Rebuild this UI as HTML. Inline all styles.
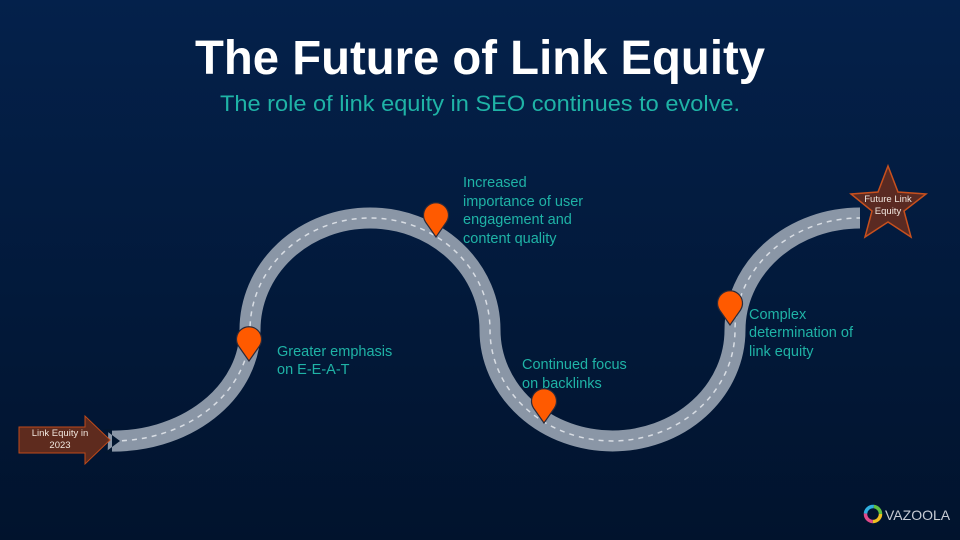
<!DOCTYPE html>
<html><head><meta charset="utf-8"><style>
html,body{margin:0;padding:0;width:960px;height:540px;overflow:hidden}
svg{display:block}
text{font-family:"Liberation Sans",sans-serif}
</style></head><body>
<svg width="960" height="540" viewBox="0 0 960 540" xmlns="http://www.w3.org/2000/svg">
<defs>
<linearGradient id="bg" x1="0" y1="0" x2="0" y2="1">
<stop offset="0" stop-color="#04214b"/><stop offset="1" stop-color="#01132d"/>
</linearGradient>
<g id="pin"><path d="M0,0 L-10.5,-15 A12.5,12.5 0 1 1 10.5,-15 Z" fill="#ff5a00" stroke="#2a2a3a" stroke-width="1.2"/></g>
</defs>
<rect width="960" height="540" fill="url(#bg)"/>
<text x="480" y="74" text-anchor="middle" font-size="48" font-weight="bold" fill="#fff" textLength="570" lengthAdjust="spacingAndGlyphs">The Future of Link Equity</text>
<text x="480" y="111" text-anchor="middle" font-size="22" fill="#1fb3a6" textLength="520" lengthAdjust="spacingAndGlyphs">The role of link equity in SEO continues to evolve.</text>

<path d="M108,441 A137,111 0 0 0 250,330 A120,112 0 0 1 490,330 A122.5,111 0 0 0 735,330 A125,112 0 0 1 860,218" fill="none" stroke="#8a96a6" stroke-width="21"/>
<path d="M112,441 A137,111 0 0 0 250,330 A120,112 0 0 1 490,330 A122.5,111 0 0 0 735,330 A125,112 0 0 1 860,218" fill="none" stroke="#d8dde4" stroke-width="1.5" stroke-dasharray="5,5"/>
<polygon points="104,429 120,441 104,453 112,453 112,429" fill="#02162f"/>

<polygon points="19,427 85,427 85,416 110,440 85,464 85,453 19,453" fill="#5e2b1e" stroke="#c04a1a" stroke-width="1"/>
<text x="60" y="436" text-anchor="middle" font-size="9.5" fill="#f2e8e0">Link Equity in</text>
<text x="60" y="448" text-anchor="middle" font-size="9.5" fill="#f2e8e0">2023</text>

<polygon points="888,166 898,192 926,194 904,211 911,237 888,222 865,237 872,211 851,194 878,192" fill="#5a2a22" stroke="#c7501e" stroke-width="1.5"/>
<text x="888" y="202" text-anchor="middle" font-size="9.5" fill="#f2e8e0">Future Link</text>
<text x="888" y="214" text-anchor="middle" font-size="9.5" fill="#f2e8e0">Equity</text>

<use href="#pin" x="249" y="361"/>
<use href="#pin" x="436" y="237"/>
<use href="#pin" x="544" y="423"/>
<use href="#pin" x="730" y="325"/>

<g font-size="14.5" fill="#1fb3a6">
<text x="277" y="356">Greater emphasis</text>
<text x="277" y="374">on E-E-A-T</text>
<text x="463" y="187">Increased</text>
<text x="463" y="206">importance of user</text>
<text x="463" y="224">engagement and</text>
<text x="463" y="243">content quality</text>
<text x="522" y="369">Continued focus</text>
<text x="522" y="388">on backlinks</text>
<text x="749" y="319">Complex</text>
<text x="749" y="337">determination of</text>
<text x="749" y="356">link equity</text>
</g>

<g transform="translate(873,514)">
<circle r="7.5" fill="none" stroke="#f0c020" stroke-width="3.5" stroke-dasharray="12 36"/>
<circle r="7.5" fill="none" stroke="#e04a8a" stroke-width="3.5" stroke-dasharray="12 36" stroke-dashoffset="-12"/>
<circle r="7.5" fill="none" stroke="#30b0e0" stroke-width="3.5" stroke-dasharray="12 36" stroke-dashoffset="-24"/>
<circle r="7.5" fill="none" stroke="#60c040" stroke-width="3.5" stroke-dasharray="12 36" stroke-dashoffset="-36"/>
</g>
<text x="885" y="520" font-size="14" fill="#c8ccd4">VAZOOLA</text>
</svg>
</body></html>
